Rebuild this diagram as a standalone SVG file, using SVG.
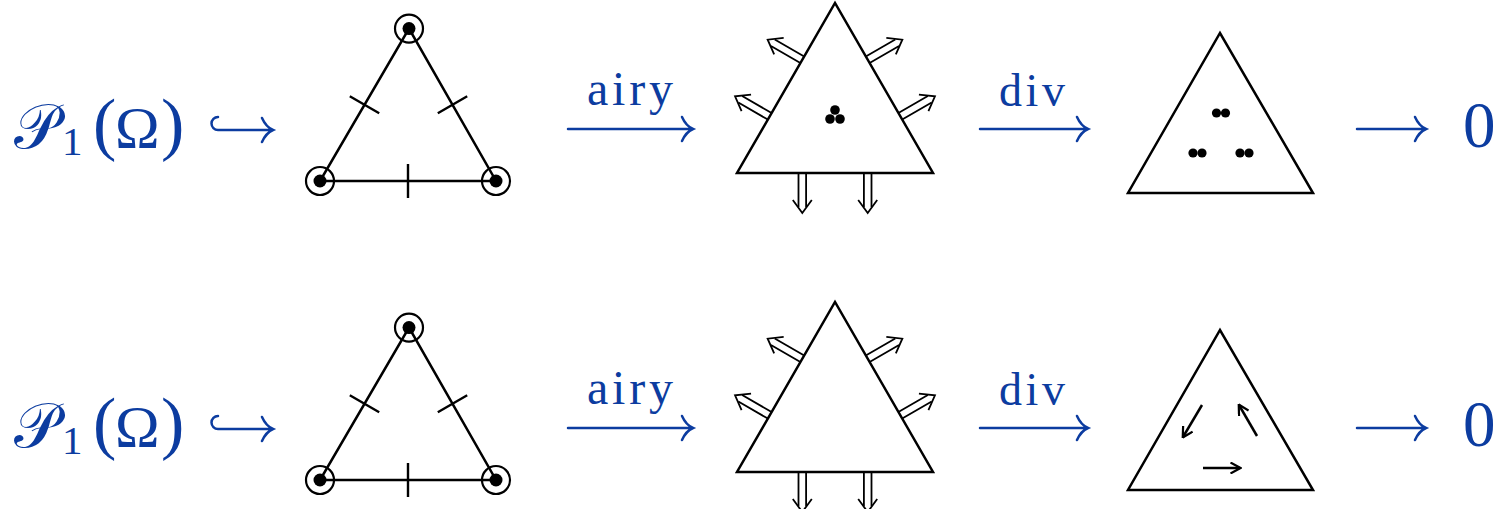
<svg xmlns="http://www.w3.org/2000/svg" width="1501" height="509" viewBox="0 0 1501 509">
<style>
  .tri { fill: none; stroke: #000; stroke-width: 2.5; stroke-linejoin: miter; }
  .edge { fill: none; stroke: #000; stroke-width: 2.4; }
  .dot { fill: #000; }
  .ring { fill: none; stroke: #000; stroke-width: 2.2; }
  .dbl { fill: none; stroke: #000; stroke-width: 1.8; }
  .blue { fill: #0c3ca0; font-family: "Liberation Serif", "DejaVu Serif", serif; }
  .barr { fill: none; stroke: #0c3ca0; stroke-width: 2.5; stroke-linecap: round; }
  .small { fill: none; stroke: #000; stroke-width: 2.5; marker-end: url(#ah); }
</style>
<defs>
  <marker id="ah" viewBox="0 0 12 12" refX="10.5" refY="6" markerWidth="12" markerHeight="12" markerUnits="userSpaceOnUse" orient="auto">
    <path d="M1,0.5 L11,6 L1,11.5" fill="none" stroke="#000" stroke-width="2.2"/>
  </marker>
  <g id="da">
    <path class="dbl" d="M0,-3.8 H34 M0,3.8 H34"/>
    <path class="dbl" d="M27,-9.5 L40,0 L27,9.5"/>
  </g>
  <g id="p1">
    <polygon class="tri" points="320,181 496,181 409,28.6"/>
    <path class="edge" d="M349.8,96.3 L379.2,113.3 M437.8,113.3 L467.2,96.3 M408,164 L408,198"/>
    <circle class="ring" cx="409" cy="28.6" r="14"/>
    <circle class="ring" cx="320" cy="181" r="14"/>
    <circle class="ring" cx="496" cy="181" r="14"/>
    <circle class="dot" cx="409" cy="28.6" r="6.5"/>
    <circle class="dot" cx="320" cy="181" r="6.5"/>
    <circle class="dot" cx="496" cy="181" r="6.5"/>
  </g>
  <g id="p2">
    <polygon class="tri" points="737,173 933,173 835,3"/>
    <use href="#da" transform="translate(802.3,173) rotate(90)"/>
    <use href="#da" transform="translate(867.7,173) rotate(90)"/>
    <use href="#da" transform="translate(769.7,116.3) rotate(210)"/>
    <use href="#da" transform="translate(802.3,59.7) rotate(210)"/>
    <use href="#da" transform="translate(900.3,116.3) rotate(-30)"/>
    <use href="#da" transform="translate(867.7,59.7) rotate(-30)"/>
  </g>
</defs>

<g id="row1-label">
  <text class="blue" x="14" y="148" font-size="62">𝒫</text>
  <text class="blue" x="62" y="155" font-size="41">1</text>
  <text class="blue" x="93" y="147" font-size="70">(</text>
  <text class="blue" x="115" y="148" font-size="60">Ω</text>
  <text class="blue" x="161" y="147" font-size="70">)</text>
</g>
<g id="row1-p1"><use href="#p1"/></g>
<g id="row1-airy"><text class="blue" x="587" y="105" font-size="48" textLength="86" lengthAdjust="spacing">airy</text></g>
<g id="row1-p2">
  <use href="#p2"/>
  <circle class="dot" cx="835" cy="110" r="4.8"/>
  <circle class="dot" cx="830" cy="119" r="4.8"/>
  <circle class="dot" cx="840" cy="119" r="4.8"/>
</g>
<g id="row1-div"><text class="blue" x="999" y="106" font-size="46" textLength="66" lengthAdjust="spacing">div</text></g>
<g id="row1-p3">
  <polygon class="tri" points="1128,193 1313,193 1220,33"/>
  <circle class="dot" cx="1216.5" cy="113" r="4.6"/>
  <circle class="dot" cx="1225.5" cy="113" r="4.6"/>
  <circle class="dot" cx="1193" cy="153" r="4.6"/>
  <circle class="dot" cx="1202" cy="153" r="4.6"/>
  <circle class="dot" cx="1240" cy="153" r="4.6"/>
  <circle class="dot" cx="1249" cy="153" r="4.6"/>
</g>
<g id="row1-zero"><text class="blue" x="1463" y="147" font-size="65">0</text></g>

<g id="row2-label">
  <text class="blue" x="14" y="447" font-size="62">𝒫</text>
  <text class="blue" x="62" y="454" font-size="41">1</text>
  <text class="blue" x="93" y="446" font-size="70">(</text>
  <text class="blue" x="115" y="447" font-size="60">Ω</text>
  <text class="blue" x="161" y="446" font-size="70">)</text>
</g>
<g id="row2-p1"><use href="#p1" transform="translate(0,299)"/></g>
<g id="row2-airy"><text class="blue" x="587" y="404" font-size="48" textLength="86" lengthAdjust="spacing">airy</text></g>
<g id="row2-p2"><use href="#p2" transform="translate(0,299)"/></g>
<g id="row2-div"><text class="blue" x="999" y="405" font-size="46" textLength="66" lengthAdjust="spacing">div</text></g>
<g id="row2-p3">
  <polygon class="tri" points="1128,490 1313,490 1220,330"/>
  <path class="small" d="M1202,405 L1183,437"/>
  <path class="small" d="M1257,436 L1239,405"/>
  <path class="small" d="M1203,468 L1240,468"/>
</g>
<g id="row2-zero"><text class="blue" x="1463" y="446" font-size="65">0</text></g>

<g id="connectors">
  <path class="barr" d="M218,117 A6.5,6.5 0 0 0 218,130 L273,130 M262,118 Q266,127 273,130 Q266,133 262,142"/>
  <path class="barr" d="M568,129 L693,129 M682,117 Q686,126 693,129 Q686,132 682,141"/>
  <path class="barr" d="M980,129 L1088,129 M1077,117 Q1081,126 1088,129 Q1081,132 1077,141"/>
  <path class="barr" d="M1357,129 L1426,129 M1415,117 Q1419,126 1426,129 Q1419,132 1415,141"/>
  <path class="barr" d="M218,416 A6.5,6.5 0 0 0 218,429 L273,429 M262,417 Q266,426 273,429 Q266,432 262,441"/>
  <path class="barr" d="M568,428 L693,428 M682,416 Q686,425 693,428 Q686,431 682,440"/>
  <path class="barr" d="M980,428 L1088,428 M1077,416 Q1081,425 1088,428 Q1081,431 1077,440"/>
  <path class="barr" d="M1357,428 L1426,428 M1415,416 Q1419,425 1426,428 Q1419,431 1415,440"/>
</g>
</svg>
